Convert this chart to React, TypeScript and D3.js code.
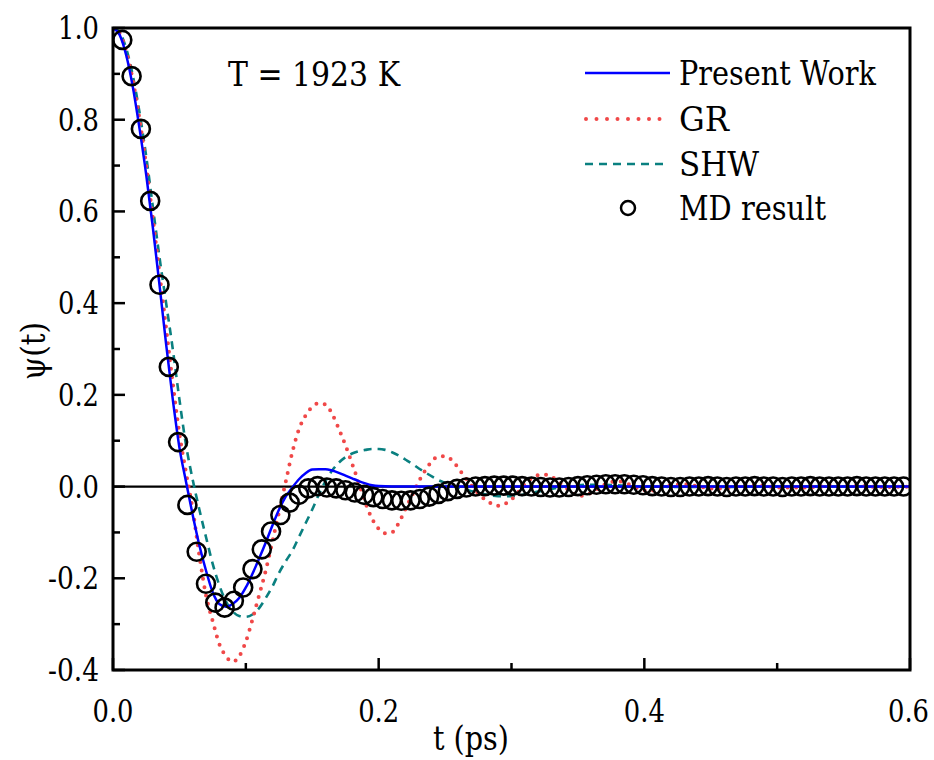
import React from "react";
import * as d3 from "d3";

// ---- data ----
const pwT = [0,0.005,0.01,0.015,0.02,0.025,0.03,0.035,0.04,0.045,0.05,0.055,0.06,0.065,0.07,0.075,0.08,0.085,0.09,0.095,0.1,0.105,0.11,0.115,0.12,0.125,0.13,0.135,0.14,0.145,0.15,0.155,0.16,0.165,0.17,0.175,0.18,0.185,0.19,0.195,0.2,0.21,0.22,0.25,0.3,0.4,0.5,0.6];
const pwV = [1.0,0.985,0.94,0.87,0.78,0.68,0.565,0.44,0.31,0.19,0.085,0.01,-0.062,-0.128,-0.183,-0.23,-0.256,-0.262,-0.256,-0.243,-0.22,-0.19,-0.157,-0.122,-0.085,-0.05,-0.022,-0.002,0.016,0.029,0.037,0.038,0.038,0.035,0.03,0.024,0.018,0.012,0.007,0.003,0.001,0.0,0.0,0.0,0.0,0.0,0.0,0.0];

const grT = [0,0.005,0.01,0.015,0.02,0.025,0.03,0.035,0.04,0.045,0.05,0.055,0.06,0.065,0.07,0.075,0.08,0.085,0.09,0.095,0.1,0.105,0.11,0.115,0.12,0.125,0.13,0.135,0.14,0.145,0.15,0.155,0.16,0.165,0.17,0.175,0.18,0.185,0.19,0.195,0.2,0.205,0.21,0.215,0.22,0.225,0.23,0.235,0.24,0.245,0.25,0.255,0.26,0.265,0.27,0.275,0.28,0.285,0.29,0.295,0.3,0.305,0.31,0.315,0.32,0.325,0.33,0.335,0.34,0.345,0.35,0.355,0.36,0.365,0.37,0.375,0.38,0.385,0.39,0.395,0.4,0.405,0.41,0.415,0.42,0.43,0.44,0.45,0.46,0.47,0.48,0.49,0.5,0.52,0.54,0.56,0.58,0.6];
const grV = [1.0,0.988,0.948,0.885,0.8,0.7,0.585,0.465,0.345,0.225,0.115,0.03,-0.05,-0.15,-0.237,-0.293,-0.343,-0.37,-0.382,-0.37,-0.338,-0.29,-0.237,-0.183,-0.12,-0.055,0.01,0.075,0.125,0.155,0.174,0.182,0.179,0.158,0.126,0.09,0.05,0.008,-0.035,-0.07,-0.092,-0.102,-0.1,-0.08,-0.05,-0.02,0.01,0.035,0.055,0.066,0.066,0.058,0.04,0.02,0.002,-0.015,-0.028,-0.037,-0.042,-0.038,-0.028,-0.012,0.005,0.018,0.025,0.026,0.022,0.012,0.0,-0.012,-0.02,-0.02,-0.013,-0.004,0.004,0.01,0.012,0.009,0.003,-0.004,-0.008,-0.009,-0.006,-0.001,0.003,0.005,0.001,-0.004,-0.004,0.0,0.003,0.002,-0.002,-0.002,0.001,0.001,-0.001,0.0];

const shwT = [0,0.005,0.01,0.015,0.02,0.025,0.03,0.035,0.04,0.045,0.05,0.055,0.06,0.065,0.07,0.075,0.08,0.085,0.09,0.095,0.1,0.105,0.11,0.115,0.12,0.125,0.13,0.135,0.14,0.145,0.15,0.155,0.16,0.165,0.17,0.175,0.18,0.185,0.19,0.195,0.2,0.205,0.21,0.215,0.22,0.225,0.23,0.235,0.24,0.245,0.25,0.255,0.26,0.27,0.28,0.29,0.3,0.31,0.32,0.33,0.34,0.35,0.36,0.38,0.4,0.45,0.5,0.6];
const shwV = [1.0,0.99,0.955,0.895,0.815,0.72,0.61,0.5,0.4,0.3,0.19,0.09,0.015,-0.05,-0.11,-0.168,-0.215,-0.25,-0.272,-0.282,-0.284,-0.279,-0.265,-0.243,-0.218,-0.188,-0.163,-0.14,-0.11,-0.08,-0.05,-0.017,0.012,0.035,0.052,0.064,0.072,0.077,0.08,0.082,0.082,0.08,0.075,0.068,0.059,0.05,0.04,0.031,0.022,0.014,0.008,0.003,-0.002,-0.01,-0.017,-0.021,-0.021,-0.017,-0.011,-0.005,0.0,0.003,0.004,0.003,0.0,-0.001,0.0,0.0];

const mdV = [0.974,0.895,0.78,0.623,0.44,0.261,0.097,-0.04,-0.142,-0.212,-0.253,-0.264,-0.249,-0.22,-0.18,-0.137,-0.098,-0.062,-0.035,-0.018,-0.004,0.001,-0.002,-0.004,-0.008,-0.013,-0.018,-0.023,-0.027,-0.03,-0.031,-0.03,-0.027,-0.022,-0.016,-0.01,-0.005,-0.002,0.0,0.001,0.002,0.002,0.002,0.001,0.0,-0.001,-0.002,-0.002,-0.001,0.001,0.003,0.004,0.005,0.005,0.005,0.004,0.003,0.001,0.0,-0.001,-0.001,0.0,0.0,0.001,0.0,-0.001,0.0,0.0,0.001,0.0,0.0,-0.001,0.0,0.0,0.001,0.0,0.0,0.0,0.0,0.001,0.0,0.0,0.0,0.0,0.0];
const mdStep = 0.007;

const xMajor = [0, 0.2, 0.4, 0.6];
const xMajorLabels = ["0.0", "0.2", "0.4", "0.6"];
const xMinor = [0.1, 0.3, 0.5];
const yMajor = [1.0, 0.8, 0.6, 0.4, 0.2, 0.0, -0.2, -0.4];
const yMajorLabels = ["1.0", "0.8", "0.6", "0.4", "0.2", "0.0", "-0.2", "-0.4"];
const yMinor = [0.9, 0.7, 0.5, 0.3, 0.1, -0.1, -0.3];

const legendNames = ["Present Work", "GR", "SHW", "MD result"];
const legendWidths = [197, 50, 80, 147];

const FONT = "'DejaVu Serif', serif";
const W = 934, H = 760;
const L = 113, R = 910, T = 28, B = 670;

export default function App() {
  const x = d3.scaleLinear().domain([0, 0.6]).range([L, R]);
  const y = d3.scaleLinear().domain([-0.4, 1.0]).range([B, T]);

  const mkLine = (ts: number[], vs: number[]) =>
    d3.line<number>().x((_, i) => x(ts[i])).y((v) => y(v)).curve(d3.curveMonotoneX)(vs) || "";

  const mdPts = mdV.map((v, i) => ({ t: (i + 1) * mdStep, v }));

  const legY = [73, 119, 164, 208];
  const ts = { fontFamily: FONT } as React.CSSProperties;
  const lenOf = (s: string) => (s.startsWith("-") ? 51 : 41);

  return (
    <svg width={W} height={H} style={{ position: "absolute", left: 0, top: 0, background: "#fff" }}>
      <rect x={0} y={0} width={W} height={H} fill="#fff" />
      <defs>
        <clipPath id="plot">
          <rect x={L} y={T} width={R - L} height={B - T} />
        </clipPath>
      </defs>
      <line x1={L} x2={R} y1={y(0)} y2={y(0)} stroke="#000" strokeWidth={2.2} />
      <g clipPath="url(#plot)">
        <path d={mkLine(shwT, shwV)} fill="none" stroke="#0a8080" strokeWidth={2.6} strokeDasharray="8 6" />
        <path d={mkLine(grT, grV)} fill="none" stroke="#f04848" strokeWidth={4} strokeDasharray="0 8.5" strokeLinecap="round" />
        <path d={mkLine(pwT, pwV)} fill="none" stroke="#0000ff" strokeWidth={2.5} />
        {mdPts.map((p, i) => (
          <circle key={i} cx={x(p.t)} cy={y(p.v)} r={9} fill="none" stroke="#000" strokeWidth={2.6} />
        ))}
      </g>
      <rect x={L} y={T} width={R - L} height={B - T} fill="none" stroke="#000" strokeWidth={3} />
      {xMajor.map((v, i) => (
        <g key={"xm" + i}>
          <line x1={x(v)} x2={x(v)} y1={B} y2={B - 12} stroke="#000" strokeWidth={2.5} />
          <text style={ts} x={Math.min(x(v) - 20.5, W - 46)} y={722} fontSize={32} textLength={41} lengthAdjust="spacingAndGlyphs">{xMajorLabels[i]}</text>
        </g>
      ))}
      {xMinor.map((v, i) => (
        <line key={"xn" + i} x1={x(v)} x2={x(v)} y1={B} y2={B - 7} stroke="#000" strokeWidth={2.5} />
      ))}
      {yMajor.map((v, i) => (
        <g key={"ym" + i}>
          <line x1={L} x2={L + 12} y1={y(v)} y2={y(v)} stroke="#000" strokeWidth={2.5} />
          <text style={ts} x={99 - lenOf(yMajorLabels[i])} y={y(v) + 11} fontSize={32} textLength={lenOf(yMajorLabels[i])} lengthAdjust="spacingAndGlyphs">{yMajorLabels[i]}</text>
        </g>
      ))}
      {yMinor.map((v, i) => (
        <line key={"yn" + i} x1={L} x2={L + 7} y1={y(v)} y2={y(v)} stroke="#000" strokeWidth={2.5} />
      ))}
      <text style={ts} x={433} y={750} fontSize={34} textLength={76} lengthAdjust="spacingAndGlyphs">t (ps)</text>
      <text style={ts} transform={`translate(45,${380}) rotate(-90)`} fontSize={34} textLength={58} lengthAdjust="spacingAndGlyphs">ψ(t)</text>
      <text style={ts} x={228} y={86} fontSize={33} textLength={172} lengthAdjust="spacingAndGlyphs">T = 1923 K</text>
      <line x1={585} x2={670} y1={legY[0]} y2={legY[0]} stroke="#0000ff" strokeWidth={2.5} />
      <line x1={586} x2={670} y1={legY[1]} y2={legY[1]} stroke="#f04848" strokeWidth={4} strokeDasharray="0 10.5" strokeLinecap="round" />
      <line x1={585} x2={668} y1={legY[2]} y2={legY[2]} stroke="#0a8080" strokeWidth={2.6} strokeDasharray="8 6" />
      <circle cx={628} cy={legY[3]} r={7} fill="none" stroke="#000" strokeWidth={2.5} />
      {legendNames.map((n, i) => (
        <text style={ts} key={n} x={679} y={legY[i] + 12} fontSize={33} textLength={legendWidths[i]} lengthAdjust="spacingAndGlyphs">{n}</text>
      ))}
    </svg>
  );
}
